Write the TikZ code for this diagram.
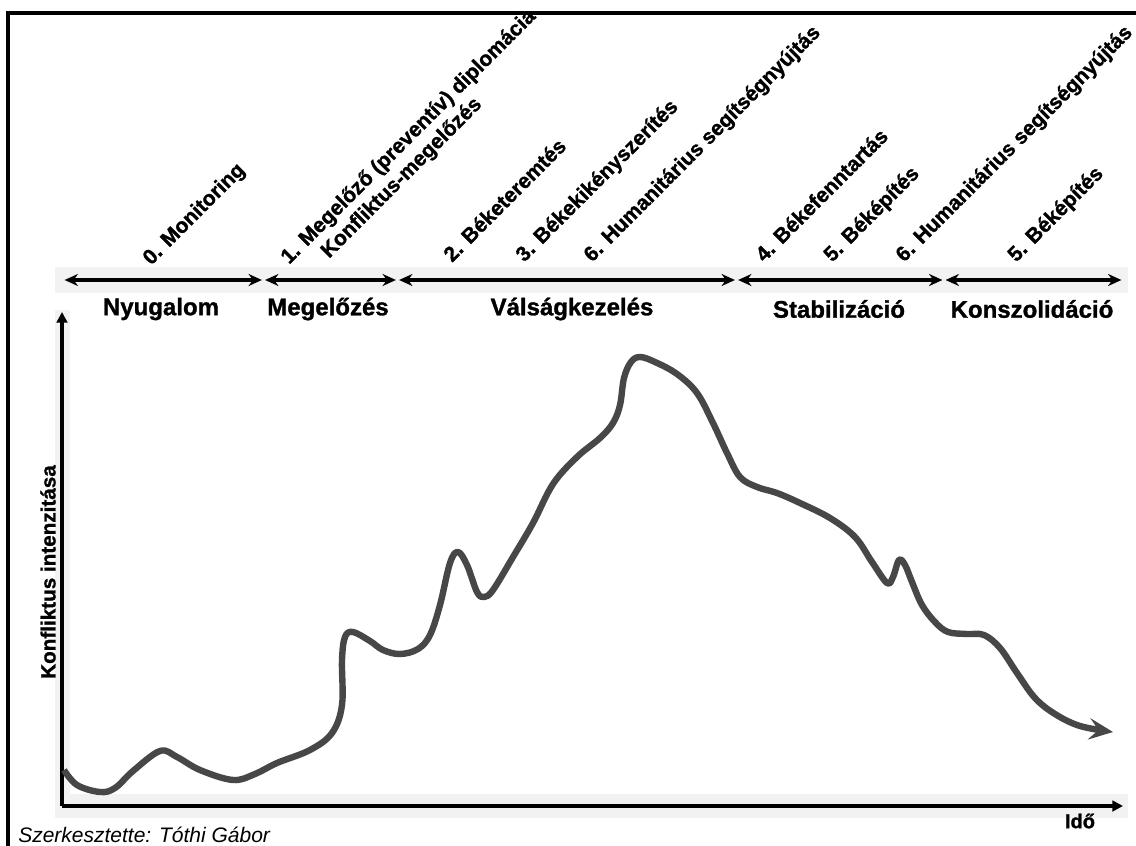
\documentclass[tikz,border=0pt]{standalone}
\usepackage{fontspec}
\setmainfont{Liberation Sans}[BoldFeatures={FakeBold=1.2}]
\usetikzlibrary{arrows.meta}

\begin{document}
\begin{tikzpicture}[x=0.75pt, y=-0.75pt,
  band/.style={fill=black!5, draw=none},
  axis/.style={-{Triangle[length=8pt,width=8pt]}, line width=2.3pt},
  phase/.style={{Stealth[length=10pt,width=9pt]}-{Stealth[length=10pt,width=9pt]}, line width=2.3pt, shorten <=1.2pt, shorten >=1.2pt},
  stage/.style={font=\fontsize{18}{21}\selectfont\bfseries},
  task/.style={font=\fontsize{15.75}{18}\selectfont\bfseries, rotate=45, anchor=base west, inner sep=0pt},
  curve/.style={line width=4.8pt, black!72, line join=round, -{Stealth[length=18pt,width=16pt,inset=7pt]}}]

\useasboundingbox (0,0) rectangle (1136,846);
\clip (0,0) rectangle (1136,846);
\fill[white] (0,0) rectangle (1136,846);
\draw[line width=3pt] (8,13) rectangle (1160,870);

\fill[band] (55,267) rectangle (1128,293);
\fill[band] (55,794) rectangle (1128,818);
\fill[band] (55,310) rectangle (70,800);

\coordinate (b0) at (63,280);
\coordinate (b1) at (263.5,280);
\coordinate (b2) at (397.5,280);
\coordinate (b3) at (736.5,280);
\coordinate (b4) at (944,280);
\coordinate (b5) at (1123,280);

\draw[phase] (b0) -- (b1);
\draw[phase] (b1) -- (b2);
\draw[phase] (b2) -- (b3);
\draw[phase] (b3) -- (b4);
\draw[phase] (b4) -- (b5);

\node[stage] (s1) at (161,309) {Nyugalom};
\node[stage] (s2) at (328,309) {Megelőzés};
\node[stage] (s3) at (572,309) {Válságkezelés};
\node[stage] (s4) at (839,309) {Stabilizáció};
\node[stage] (s5) at (1032,309) {Konszolidáció};

\node[task] (t0) at (151,266) {0. Monitoring};
\node[task] (t1) at (289,265) {1. Megelőző (preventív) diplomácia};
\node[task] (t1b) at (329,259) {Konfliktus-megelőzés};
\node[task] (t2) at (452,263) {2. Béketeremtés};
\node[task] (t3) at (524,263) {3. Békekikényszerítés};
\node[task] (t6a) at (592,263) {6. Humanitárius segítségnyújtás};
\node[task] (t4) at (764,263) {4. Békefenntartás};
\node[task] (t5a) at (832,263) {5. Béképítés};
\node[task] (t6b) at (904,263) {6. Humanitárius segítségnyújtás};
\node[task] (t5b) at (1016,263) {5. Béképítés};

\coordinate (O) at (62,806);
\coordinate (ytop) at (62,312);
\coordinate (xend) at (1123,806);
\draw[axis] (O) -- (ytop);
\draw[axis] (O) -- (xend);

\node[rotate=90, font=\fontsize{15.5}{18}\selectfont\bfseries] (ylab) at (48,572) {Konfliktus intenzitása};
\node[font=\fontsize{15}{18}\selectfont\bfseries] (ido) at (1080,821) {Idő};
\node[anchor=west, inner sep=0pt, font=\fontsize{15.75}{18}\selectfont\itshape] (credit) at (18,835) {Szerkesztette: Tóthi Gábor};

\draw[curve] plot [smooth, tension=0.6] coordinates {(64,770) (77,785) (100,792) (115,788) (133,771) (160,751) (177,757) (200,770) (233,780) (255,774) (277,763) (310,750) (332,733) (342,705) (342,660) (345,637) (353,632) (370,641) (383,650) (400,654) (418,649) (430,635) (440,605) (450,563) (458,552) (467,565) (477,592) (484,597) (493,590) (513,557) (533,523) (553,484) (577,457) (600,438) (613,423) (620,405) (624,378) (631,362) (640,357) (655,362) (677,374) (697,393) (713,423) (727,453) (740,477) (757,487) (777,493) (800,503) (830,518) (855,537) (872,562) (887,583) (893,577) (899,560) (905,565) (912,582) (922,605) (935,622) (948,632) (967,634) (984,635) (1000,648) (1017,673) (1035,698) (1055,714) (1080,726) (1113,732)};
\end{tikzpicture}
\end{document}
